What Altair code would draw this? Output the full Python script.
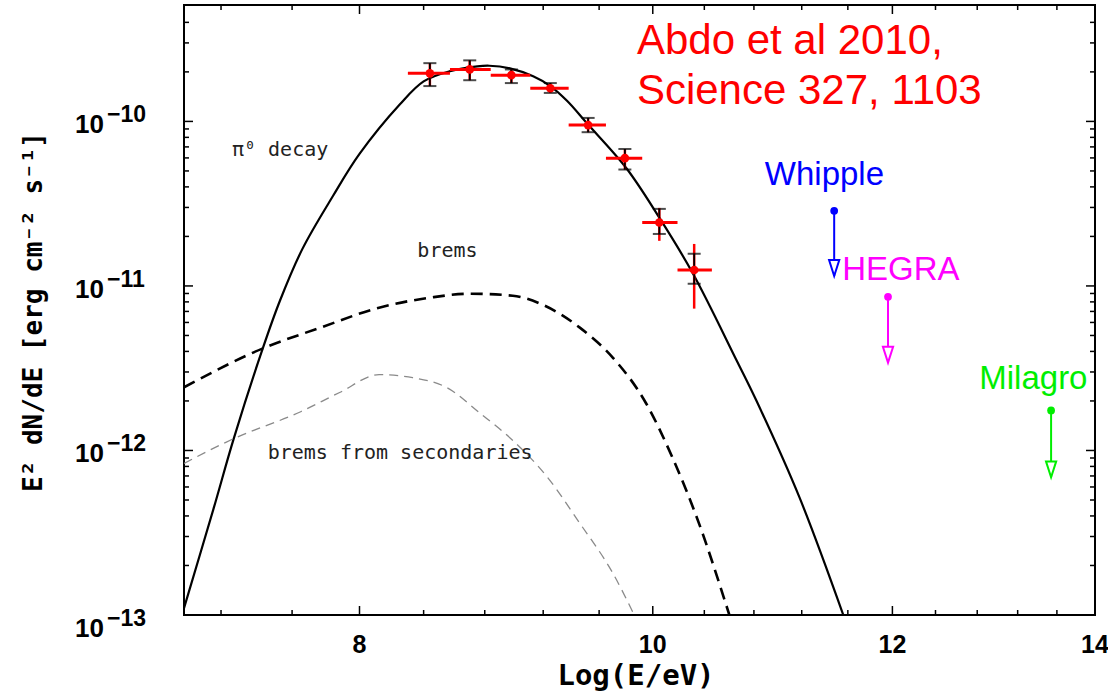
import altair as alt
import pandas as pd

# ---------------- data ----------------
# pi0 decay model (solid)
pi0_x = [7.00, 7.16, 7.27, 7.43, 7.53, 7.66, 7.84, 8.00, 8.25, 8.40, 8.57, 8.75, 8.83,
         8.97, 9.13, 9.25, 9.37, 9.51, 9.80, 10.05, 10.31, 10.66, 10.82, 11.18, 11.56]
pi0_y = [1.10e-13, 4.46e-13, 1.18e-12, 4.10e-12, 8.13e-12, 1.68e-11, 3.52e-11, 6.34e-11,
         1.27e-10, 1.75e-10, 2.02e-10, 2.16e-10, 2.18e-10, 2.10e-10, 1.88e-10, 1.64e-10,
         1.33e-10, 9.77e-11, 5.21e-11, 2.60e-11, 1.19e-11, 3.51e-12, 2.01e-12, 5.20e-13,
         1.00e-13]

# bremsstrahlung (thick dashed)
brems_x = [7.00, 7.43, 7.77, 8.12, 8.44, 8.70, 8.99, 9.18, 9.46, 9.70, 9.95, 10.15, 10.34, 10.60]
brems_y = [2.42e-12, 4.16e-12, 5.60e-12, 7.38e-12, 8.48e-12, 8.97e-12, 8.72e-12, 7.80e-12,
           5.58e-12, 3.67e-12, 1.93e-12, 9.08e-13, 3.93e-13, 1.00e-13]

# brems from secondaries (thin grey dashed)
sec_x = [7.00, 7.27, 7.65, 7.88, 8.12, 8.33, 8.55, 8.77, 8.99, 9.23, 9.46, 9.70, 9.86]
sec_y = [8.35e-13, 1.18e-12, 1.72e-12, 2.25e-12, 2.89e-12, 2.77e-12, 2.41e-12, 1.68e-12,
         1.15e-12, 6.87e-13, 3.61e-13, 1.80e-13, 1.00e-13]

# Fermi-LAT points
fermi_x = [8.44, 8.70, 8.98, 9.25, 9.52, 9.79, 10.05, 10.32]
fermi_xlo = [8.30, 8.57, 8.84, 9.11, 9.38, 9.65, 9.92, 10.19]
fermi_xhi = [8.57, 8.84, 9.11, 9.38, 9.65, 9.92, 10.19, 10.46]
fermi_y = [1.96e-10, 2.07e-10, 1.91e-10, 1.59e-10, 9.5e-11, 5.98e-11, 2.43e-11, 1.25e-11]
fermi_ylo = [1.64e-10, 1.78e-10, 1.71e-10, 1.49e-10, 8.6e-11, 5.1e-11, 2.07e-11, 1.03e-11]
fermi_yhi = [2.26e-10, 2.35e-10, 2.07e-10, 1.71e-10, 1.05e-10, 6.8e-11, 2.94e-11, 1.57e-11]
red_ylo = [1.64e-10, 1.78e-10, 1.71e-10, 1.49e-10, 8.6e-11, 5.1e-11, 1.88e-11, 7.28e-12]
red_yhi = [2.26e-10, 2.35e-10, 2.07e-10, 1.71e-10, 1.05e-10, 6.8e-11, 2.98e-11, 1.80e-11]

# TeV upper limits
ul_name = ["Whipple", "HEGRA", "Milagro"]
ul_x = [11.48, 11.96, 13.54]
ul_y = [2.86e-11, 8.59e-12, 1.75e-12]
ul_tip = [1.15e-11, 3.42e-12, 6.87e-13]
ul_label_x = [10.89, 11.55, 12.82]
ul_label_y = [4.11e-11, 1.09e-11, 2.35e-12]
ul_palette = ["#0000FF", "#FF00FF", "#00EE00"]

# curve labels
model_text = ["π⁰ decay", "brems", "brems from secondaries"]
model_x = [7.26, 8.36, 7.46]
model_y = [6.16e-11, 1.50e-11, 8.83e-13]

cite_text = ["Abdo et al 2010,", "Science 327, 1103"]
cite_x = [9.88, 9.88]
cite_y = [2.56e-10, 1.27e-10]

# axes
x_title = "Log(E/eV)"
y_title = "E² dN/dE [erg cm⁻² s⁻¹]"
x_labels = [8, 10, 12, 14]
x_minor = [7.2, 7.6, 8.4, 8.8, 9.2, 9.6, 10.4, 10.8, 11.2, 11.6, 12.4, 12.8, 13.2, 13.6]
y_major = [1e-13, 1e-12, 1e-11, 1e-10]
y_exp = [-13, -12, -11, -10]
y_minor = [k * 10.0 ** e for e in (-13, -12, -11) for k in range(2, 10)] + [2e-10, 3e-10, 4e-10]

# ---------------- chart ----------------
W, H = 911, 610
xs = alt.Scale(type="log", domain=[7, 14], nice=False)
ys = alt.Scale(type="log", domain=[1e-13, 5.1e-10], nice=False)


def X(f):
    return alt.X(f"{f}:Q", scale=xs, axis=None)


def Y(f):
    return alt.Y(f"{f}:Q", scale=ys, axis=None)


pi0 = pd.DataFrame({"x": pi0_x, "y": pi0_y})
brems = pd.DataFrame({"x": brems_x, "y": brems_y})
sec = pd.DataFrame({"x": sec_x, "y": sec_y})
fermi = pd.DataFrame({"x": fermi_x, "xlo": fermi_xlo, "xhi": fermi_xhi, "y": fermi_y,
                      "ylo": fermi_ylo, "yhi": fermi_yhi, "rlo": red_ylo, "rhi": red_yhi})
ul = pd.DataFrame({"name": ul_name, "x": ul_x, "y": ul_y, "tip": ul_tip,
                   "lx": ul_label_x, "ly": ul_label_y})
models = pd.DataFrame({"t": model_text, "x": model_x, "y": model_y})
cite = pd.DataFrame({"t": cite_text, "x": cite_x, "y": cite_y})
xmaj = pd.DataFrame({"v": x_labels, "lab": [str(v) for v in x_labels]})
xmin = pd.DataFrame({"v": x_minor})
ymaj = pd.DataFrame({"v": y_major, "base": ["10"] * len(y_major),
                     "exp": ["−" + str(abs(e)) for e in y_exp]})
ymin = pd.DataFrame({"v": y_minor})
titles = pd.DataFrame({"xt": [x_title], "yt": [y_title]})

ucolor = alt.Scale(domain=ul_name, range=ul_palette)

l_pi0 = alt.Chart(pi0).mark_line(color="black", strokeWidth=2.2, interpolate="catmull-rom", clip=True).encode(
    x=X("x"), y=Y("y"))
l_brems = alt.Chart(brems).mark_line(color="black", strokeWidth=2.6, strokeDash=[12, 7],
                                     interpolate="monotone", clip=True).encode(x=X("x"), y=Y("y"))
l_sec = alt.Chart(sec).mark_line(color="#8a8a8a", strokeWidth=1.3, strokeDash=[9, 6],
                                 interpolate="monotone", clip=True).encode(x=X("x"), y=Y("y"))

f_hbar = alt.Chart(fermi).mark_rule(color="#FF0000", strokeWidth=3).encode(x=X("xlo"), x2="xhi", y=Y("y"))
f_rv = alt.Chart(fermi).mark_rule(color="#FF0000", strokeWidth=2.5).encode(x=X("x"), y=Y("rlo"), y2="rhi")
f_bv = alt.Chart(fermi).mark_rule(color="black", strokeWidth=1.8).encode(x=X("x"), y=Y("ylo"), y2="yhi")
f_cap1 = alt.Chart(fermi).mark_tick(color="black", orient="horizontal", size=13, thickness=2).encode(x=X("x"), y=Y("ylo"))
f_cap2 = alt.Chart(fermi).mark_tick(color="black", orient="horizontal", size=13, thickness=2).encode(x=X("x"), y=Y("yhi"))
f_dot = alt.Chart(fermi).mark_point(filled=True, color="#FF0000", size=75, opacity=1).encode(x=X("x"), y=Y("y"))

u_line = alt.Chart(ul).mark_rule(strokeWidth=2).encode(
    x=X("x"), y=Y("y"), y2="tip", color=alt.Color("name:N", scale=ucolor, legend=None))
u_dot = alt.Chart(ul).mark_point(filled=True, size=60, opacity=1).encode(
    x=X("x"), y=Y("y"), color=alt.Color("name:N", scale=ucolor, legend=None))
u_head = alt.Chart(ul).mark_point(shape="M -1.7 -5.3 L 1.7 -5.3 L 0 0 Z", filled=True, fill="white",
                                  size=36, strokeWidth=2, opacity=1).encode(
    x=X("x"), y=Y("tip"), stroke=alt.Stroke("name:N", scale=ucolor, legend=None))
u_text = alt.Chart(ul).mark_text(align="left", baseline="alphabetic", font="Liberation Sans",
                                 fontSize=33).encode(
    x=X("lx"), y=Y("ly"), text="name:N", color=alt.Color("name:N", scale=ucolor, legend=None))

m_text = alt.Chart(models).mark_text(align="left", baseline="alphabetic", font="DejaVu Sans Mono",
                                     fontSize=20, color="#222222").encode(x=X("x"), y=Y("y"), text="t:N")
c_text = alt.Chart(cite).mark_text(align="left", baseline="alphabetic", font="Liberation Sans",
                                   fontSize=42, color="#FF0000").encode(x=X("x"), y=Y("y"), text="t:N")

# inward ticks on all four sides
tk = dict(color="black", strokeWidth=1.5)
t_xb_maj = alt.Chart(xmaj).mark_rule(**tk).encode(x=X("v"), y=alt.value(H), y2=alt.value(H - 9))
t_xb_min = alt.Chart(xmin).mark_rule(**tk).encode(x=X("v"), y=alt.value(H), y2=alt.value(H - 5))
t_xt_maj = alt.Chart(xmaj).mark_rule(**tk).encode(x=X("v"), y=alt.value(0), y2=alt.value(9))
t_xt_min = alt.Chart(xmin).mark_rule(**tk).encode(x=X("v"), y=alt.value(0), y2=alt.value(5))
t_yl_maj = alt.Chart(ymaj).mark_rule(**tk).encode(y=Y("v"), x=alt.value(0), x2=alt.value(9))
t_yl_min = alt.Chart(ymin).mark_rule(**tk).encode(y=Y("v"), x=alt.value(0), x2=alt.value(5))
t_yr_maj = alt.Chart(ymaj).mark_rule(**tk).encode(y=Y("v"), x=alt.value(W), x2=alt.value(W - 9))
t_yr_min = alt.Chart(ymin).mark_rule(**tk).encode(y=Y("v"), x=alt.value(W), x2=alt.value(W - 5))

# tick labels
lab = dict(font="Liberation Sans", fontWeight="bold", color="black")
x_lab = alt.Chart(xmaj).mark_text(align="center", baseline="alphabetic", fontSize=25, **lab).encode(
    x=X("v"), y=alt.value(H + 38), text="lab:N")
y_base = alt.Chart(ymaj).transform_filter("datum.v > 5e-13").mark_text(
    align="right", baseline="alphabetic", dy=12, fontSize=26, **lab).encode(
    y=Y("v"), x=alt.value(-80), text="base:N")
y_exp_t = alt.Chart(ymaj).transform_filter("datum.v > 5e-13").mark_text(
    align="left", baseline="alphabetic", dy=1, fontSize=23, **lab).encode(
    y=Y("v"), x=alt.value(-77), text="exp:N")
y_base0 = alt.Chart(ymaj).transform_filter("datum.v < 5e-13").mark_text(
    align="right", baseline="alphabetic", dy=22, fontSize=26, **lab).encode(
    y=Y("v"), x=alt.value(-80), text="base:N")
y_exp0 = alt.Chart(ymaj).transform_filter("datum.v < 5e-13").mark_text(
    align="left", baseline="alphabetic", dy=11, fontSize=23, **lab).encode(
    y=Y("v"), x=alt.value(-77), text="exp:N")

# axis titles
ttl = dict(font="DejaVu Sans Mono", fontWeight="bold", color="black")
x_ttl = alt.Chart(titles).mark_text(align="center", baseline="alphabetic", fontSize=29, **ttl).encode(
    x=alt.value(452), y=alt.value(H + 70), text="xt:N")
y_ttl = alt.Chart(titles).mark_text(align="center", baseline="middle", angle=270, fontSize=26, **ttl).encode(
    x=alt.value(-150), y=alt.value(307), text="yt:N")

chart = alt.layer(
    l_pi0, l_brems, l_sec,
    f_hbar, f_rv, f_bv, f_cap1, f_cap2, f_dot,
    u_line, u_head, u_dot, u_text,
    m_text, c_text,
    t_xb_maj, t_xb_min, t_xt_maj, t_xt_min, t_yl_maj, t_yl_min, t_yr_maj, t_yr_min,
    x_lab, y_base, y_exp_t, y_base0, y_exp0, x_ttl, y_ttl,
).properties(
    width=W, height=H,
    autosize=alt.AutoSizeParams(type="none"),
    padding={"left": 184, "top": 5, "right": 13, "bottom": 79},
    background="white",
).configure_view(stroke="black", strokeWidth=2)

chart.save("out.html", embed_options={"renderer": "svg", "actions": False})
